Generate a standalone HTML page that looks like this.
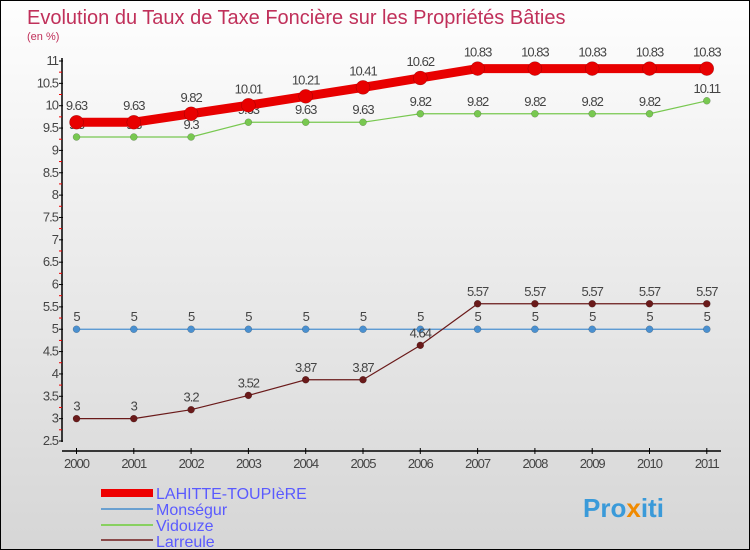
<!DOCTYPE html>
<html><head><meta charset="utf-8"><style>
body{margin:0;}
#c{width:748px;height:548px;border:1px solid #000;background:linear-gradient(#fefefe,#d6d6d6);position:relative;font-family:"Liberation Sans",sans-serif;overflow:hidden}
</style></head><body>
<div id="c">
<svg id="s" width="748" height="548" style="position:absolute;left:0;top:0">
<text x="26" y="23" font-size="20" fill="#c0305a">Evolution du Taux de Taxe Foncière sur les Propriétés Bâties</text>
<text x="26" y="39" font-size="11" fill="#c0305a">(en %)</text>
<g id="axes"></g><g id="series"></g>
<g>
<rect x="100" y="488" width="52" height="8" fill="#e00"/>
<text x="155" y="498" font-size="16" fill="#5a5aff">LAHITTE-TOUPIèRE</text>
<rect x="100" y="507" width="52" height="2" fill="#6aa0d0"/>
<text x="155" y="514" font-size="16" fill="#5a5aff">Monségur</text>
<rect x="100" y="523" width="52" height="2" fill="#88d060"/>
<text x="155" y="530" font-size="16" fill="#5a5aff">Vidouze</text>
<rect x="100" y="538" width="52" height="2" fill="#8a4a4a"/>
<text x="155" y="546" font-size="16" fill="#5a5aff">Larreule</text>
</g>
<text x="582" y="516" font-size="26" font-weight="bold" fill="#3a9ad9">Pro<tspan fill="#f08a00">x</tspan><tspan fill="#3a9ad9">iti</tspan></text>
</svg>
</div>
<script>
const years=[2000,2001,2002,2003,2004,2005,2006,2007,2008,2009,2010,2011];
const lahitte=[9.63,9.63,9.82,10.01,10.21,10.41,10.62,10.83,10.83,10.83,10.83,10.83];
const monsegur=[5,5,5,5,5,5,5,5,5,5,5,5];
const vidouze=[9.3,9.3,9.3,9.63,9.63,9.63,9.82,9.82,9.82,9.82,9.82,10.11];
const larreule=[3,3,3.2,3.52,3.87,3.87,4.64,5.57,5.57,5.57,5.57,5.57];
const yTicks=[2.5,3,3.5,4,4.5,5,5.5,6,6.5,7,7.5,8,8.5,9,9.5,10,10.5,11];
const NS='http://www.w3.org/2000/svg';
const xS=i=>75.5+i*57.3;
const yS=v=>440-(v-2.5)*(380/8.5);
function mk(t,a,p){const e=document.createElementNS(NS,t);for(const k in a)e.setAttribute(k,a[k]);p.appendChild(e);return e;}
const ax=document.getElementById('axes');
const sg=document.getElementById('series');
let l=mk('line',{x1:61,y1:57,x2:61,y2:441,stroke:'#000','stroke-width':1.5},ax);


l=mk('line',{x1:61,y1:450,x2:720,y2:450,stroke:'#000','stroke-width':1.5},ax);


yTicks.forEach((v,i)=>{const y=yS(v);
mk('line',{x1:58,y1:y,x2:62,y2:y,stroke:'#000'},ax);
if(i<yTicks.length-1)mk('line',{x1:58,y1:y-11.2,x2:61,y2:y-11.2,stroke:'#e00'},ax);
const t=mk('text',{x:57,y:y+4,'font-size':13,fill:'#444','text-anchor':'end','letter-spacing':'-1'},ax);t.textContent=String(v);

});
years.forEach((yr,i)=>{const x=xS(i);
mk('line',{x1:x,y1:447,x2:x,y2:453,stroke:'#000'},ax);
const t=mk('text',{x:x,y:467,'font-size':13,fill:'#444','text-anchor':'middle','letter-spacing':'-1'},ax);t.textContent=yr;

});
function series(vals,color,w,r,name,lblOff){
const pts=vals.map((v,i)=>xS(i)+','+yS(v)).join(' ');
const pl=mk('polyline',{points:pts,fill:'none',stroke:color,'stroke-width':w,'stroke-linejoin':'round'},sg);


vals.forEach((v,i)=>{const c=mk('circle',{cx:xS(i),cy:yS(v),r:r,fill:color,stroke:'rgba(0,0,0,0.3)','stroke-width':0.5},sg);


const t=mk('text',{x:xS(i),y:yS(v)-lblOff,'font-size':13,fill:'#444','text-anchor':'middle','letter-spacing':'-1'},sg);t.textContent=String(v);

});}
series(monsegur,'#4a90d0',1.2,3.5,'monsegur',8);
series(vidouze,'#78c850',1.2,3.5,'vidouze',8);
series(larreule,'#6a1a1a',1.2,3.5,'larreule',8);
series(lahitte,'#e80000',9,7,'lahitte',12);
</script>
</body></html>
